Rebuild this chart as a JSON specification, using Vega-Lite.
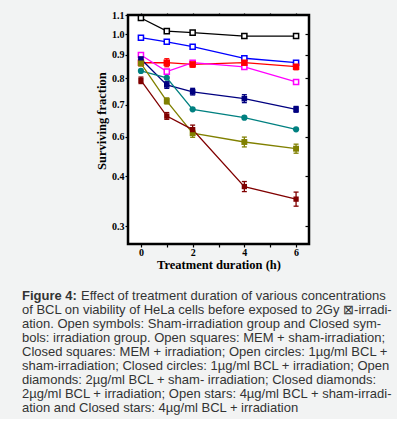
{
  "$schema": "https://vega.github.io/schema/vega-lite/v6.json",
  "background": "#f2f3f3",
  "padding": {"left": 22, "top": 8, "right": 4, "bottom": 4},
  "bounds": "flush",
  "spacing": 45,
  "config": {"view": {"stroke": null}},
  "datasets": {
    "pts": [
      {"series": "MEM + sham-irradiation", "t": 0, "v": 1.084},
      {"series": "MEM + sham-irradiation", "t": 1, "v": 1.015},
      {"series": "MEM + sham-irradiation", "t": 2, "v": 1.007},
      {"series": "MEM + sham-irradiation", "t": 4, "v": 0.990},
      {"series": "MEM + sham-irradiation", "t": 6, "v": 0.990},
      {"series": "1µg/ml BCL + sham", "t": 0, "v": 0.982},
      {"series": "1µg/ml BCL + sham", "t": 1, "v": 0.962},
      {"series": "1µg/ml BCL + sham", "t": 2, "v": 0.938},
      {"series": "1µg/ml BCL + sham", "t": 4, "v": 0.884},
      {"series": "1µg/ml BCL + sham", "t": 6, "v": 0.865},
      {"series": "MEM + irradiation", "t": 0, "v": 0.865, "lo": 0.852, "hi": 0.878},
      {"series": "MEM + irradiation", "t": 1, "v": 0.865, "lo": 0.848, "hi": 0.882},
      {"series": "MEM + irradiation", "t": 2, "v": 0.858, "lo": 0.846, "hi": 0.871},
      {"series": "MEM + irradiation", "t": 4, "v": 0.865, "lo": 0.852, "hi": 0.878},
      {"series": "MEM + irradiation", "t": 6, "v": 0.848, "lo": 0.835, "hi": 0.861},
      {"series": "2µg/ml BCL + sham", "t": 0, "v": 0.898},
      {"series": "2µg/ml BCL + sham", "t": 1, "v": 0.827},
      {"series": "2µg/ml BCL + sham", "t": 2, "v": 0.865},
      {"series": "2µg/ml BCL + sham", "t": 4, "v": 0.847},
      {"series": "2µg/ml BCL + sham", "t": 6, "v": 0.785},
      {"series": "4µg/ml BCL + sham", "t": 0, "v": 0.881, "lo": 0.868, "hi": 0.894},
      {"series": "4µg/ml BCL + sham", "t": 1, "v": 0.774, "lo": 0.761, "hi": 0.786},
      {"series": "4µg/ml BCL + sham", "t": 2, "v": 0.748, "lo": 0.736, "hi": 0.761},
      {"series": "4µg/ml BCL + sham", "t": 4, "v": 0.722, "lo": 0.707, "hi": 0.737},
      {"series": "4µg/ml BCL + sham", "t": 6, "v": 0.685, "lo": 0.676, "hi": 0.694},
      {"series": "1µg/ml BCL + irradiation", "t": 0, "v": 0.830},
      {"series": "1µg/ml BCL + irradiation", "t": 1, "v": 0.801},
      {"series": "1µg/ml BCL + irradiation", "t": 2, "v": 0.685},
      {"series": "1µg/ml BCL + irradiation", "t": 4, "v": 0.659},
      {"series": "1µg/ml BCL + irradiation", "t": 6, "v": 0.623},
      {"series": "2µg/ml BCL + irradiation", "t": 0, "v": 0.862, "lo": 0.853, "hi": 0.870},
      {"series": "2µg/ml BCL + irradiation", "t": 1, "v": 0.713, "lo": 0.702, "hi": 0.725},
      {"series": "2µg/ml BCL + irradiation", "t": 2, "v": 0.611, "lo": 0.597, "hi": 0.623},
      {"series": "2µg/ml BCL + irradiation", "t": 4, "v": 0.573, "lo": 0.548, "hi": 0.598},
      {"series": "2µg/ml BCL + irradiation", "t": 6, "v": 0.539, "lo": 0.516, "hi": 0.562},
      {"series": "4µg/ml BCL + irradiation", "t": 0, "v": 0.791, "lo": 0.779, "hi": 0.804},
      {"series": "4µg/ml BCL + irradiation", "t": 1, "v": 0.664, "lo": 0.654, "hi": 0.675},
      {"series": "4µg/ml BCL + irradiation", "t": 2, "v": 0.622, "lo": 0.609, "hi": 0.636},
      {"series": "4µg/ml BCL + irradiation", "t": 4, "v": 0.379, "lo": 0.369, "hi": 0.389},
      {"series": "4µg/ml BCL + irradiation", "t": 6, "v": 0.354, "lo": 0.340, "hi": 0.368}
    ],
    "cap": [
      {"line": 1, "kind": "label", "text": "Figure 4:"},
      {"line": 1, "kind": "first", "text": "Effect of treatment duration of various concentrations"},
      {"line": 2, "kind": "body", "text": "of BCL on viability of HeLa cells before exposed to 2Gy ⊠-irradi-"},
      {"line": 3, "kind": "body", "text": "ation. Open symbols: Sham-irradiation group and Closed sym-"},
      {"line": 4, "kind": "body", "text": "bols: irradiation group. Open squares: MEM + sham-irradiation;"},
      {"line": 5, "kind": "body", "text": "Closed squares: MEM + irradiation; Open circles: 1µg/ml BCL +"},
      {"line": 6, "kind": "body", "text": "sham-irradiation; Closed circles: 1µg/ml BCL + irradiation; Open"},
      {"line": 7, "kind": "body", "text": "diamonds: 2µg/ml BCL + sham- irradiation; Closed diamonds:"},
      {"line": 8, "kind": "body", "text": "2µg/ml BCL + irradiation; Open stars: 4µg/ml BCL + sham-irradi-"},
      {"line": 9, "kind": "body", "text": "ation and Closed stars: 4µg/ml BCL + irradiation"}
    ]
  },
  "vconcat": [
    {
      "width": 181,
      "height": 229,
      "view": {"fill": "white", "stroke": "black", "strokeWidth": 2.5},
      "data": {"name": "pts"},
      "resolve": {"axis": {"x": "independent", "y": "independent"}},
      "layer": [
        {
          "mark": {"type": "line", "strokeWidth": 1.3},
          "encoding": {
            "x": {"field": "t", "type": "quantitative",
              "scale": {"domain": [-0.5, 6.5], "nice": false, "zero": false},
              "axis": {"orient": "bottom", "values": [0, 1, 2, 3, 4, 5, 6],
                "labelExpr": "datum.value % 2 == 0 ? datum.label : ''",
                "labelOverlap": false, "title": "Treatment duration (h)",
                "domain": false, "grid": false, "tickSize": 3, "tickColor": "black", "tickWidth": 1.2,
                "labelFont": "Liberation Serif", "labelFontWeight": "bold", "labelFontSize": 10,
                "labelColor": "black", "labelPadding": 0,
                "titleFont": "Liberation Serif", "titleFontWeight": "bold", "titleFontSize": 12.5,
                "titleColor": "black", "titlePadding": 1}},
            "y": {"field": "v", "type": "quantitative",
              "scale": {"domain": [0.3, 0.4, 0.6, 0.7, 0.8, 0.9, 1.0, 1.1],
                "range": [211.3, 161, 121.7, 89.5, 63, 39.5, 19, 0], "nice": false, "zero": false},
              "axis": {"orient": "left", "values": [0.3, 0.4, 0.6, 0.7, 0.8, 0.9, 1.0, 1.1],
                "format": ".1f", "labelOverlap": false, "title": "Surviving fraction",
                "domain": false, "grid": false, "tickSize": 3, "tickColor": "black", "tickWidth": 1.2,
                "labelFont": "Liberation Serif", "labelFontWeight": "bold", "labelFontSize": 10,
                "labelColor": "black", "labelPadding": 1,
                "titleFont": "Liberation Serif", "titleFontWeight": "bold", "titleFontSize": 12.5,
                "titleColor": "black", "titlePadding": 3}},
            "color": {"field": "series", "type": "nominal", "legend": null,
              "scale": {"domain": ["MEM + sham-irradiation", "MEM + irradiation", "1µg/ml BCL + sham", "1µg/ml BCL + irradiation", "2µg/ml BCL + sham", "2µg/ml BCL + irradiation", "4µg/ml BCL + sham", "4µg/ml BCL + irradiation"],
                "range": ["#000000", "#ff0000", "#0000ff", "#008080", "#ff00ff", "#808000", "#000080", "#800000"]}}
          }
        },
        {
          "transform": [{"filter": "isValid(datum.lo)"}],
          "mark": {"type": "rule", "strokeWidth": 1.3},
          "encoding": {
            "x": {"field": "t", "type": "quantitative", "scale": {"domain": [-0.5, 6.5], "nice": false, "zero": false}, "axis": null},
            "y": {"field": "lo", "type": "quantitative",
              "scale": {"domain": [0.3, 0.4, 0.6, 0.7, 0.8, 0.9, 1.0, 1.1],
                "range": [211.3, 161, 121.7, 89.5, 63, 39.5, 19, 0], "nice": false, "zero": false}, "axis": null},
            "y2": {"field": "hi"},
            "color": {"field": "series", "type": "nominal", "legend": null}
          }
        },
        {
          "transform": [{"filter": "isValid(datum.lo)"}, {"fold": ["lo", "hi"], "as": ["end", "ev"]}],
          "mark": {"type": "tick", "orient": "horizontal", "size": 5, "thickness": 1.3, "opacity": 1},
          "encoding": {
            "x": {"field": "t", "type": "quantitative", "scale": {"domain": [-0.5, 6.5], "nice": false, "zero": false}, "axis": null},
            "y": {"field": "ev", "type": "quantitative",
              "scale": {"domain": [0.3, 0.4, 0.6, 0.7, 0.8, 0.9, 1.0, 1.1],
                "range": [211.3, 161, 121.7, 89.5, 63, 39.5, 19, 0], "nice": false, "zero": false}, "axis": null},
            "color": {"field": "series", "type": "nominal", "legend": null}
          }
        },
        {
          "transform": [{"filter": "datum.series == 'MEM + sham-irradiation' || datum.series == '1µg/ml BCL + sham' || datum.series == '2µg/ml BCL + sham'"}],
          "mark": {"type": "point", "shape": "square", "filled": false, "fill": "white", "strokeWidth": 1.5, "size": 26, "opacity": 1},
          "encoding": {
            "x": {"field": "t", "type": "quantitative", "scale": {"domain": [-0.5, 6.5], "nice": false, "zero": false},
              "axis": {"orient": "top", "values": [0, 1, 2, 3, 4, 5, 6], "labels": false, "title": null,
                "domain": false, "grid": false, "tickSize": 2, "tickColor": "black", "tickWidth": 1.2}},
            "y": {"field": "v", "type": "quantitative",
              "scale": {"domain": [0.3, 0.4, 0.6, 0.7, 0.8, 0.9, 1.0, 1.1],
                "range": [211.3, 161, 121.7, 89.5, 63, 39.5, 19, 0], "nice": false, "zero": false},
              "axis": {"orient": "right", "values": [0.3, 0.4, 0.6, 0.7, 0.8, 0.9, 1.0], "labels": false, "title": null,
                "domain": false, "grid": false, "tickSize": 4, "offset": -4, "tickColor": "black", "tickWidth": 1.2}},
            "color": {"field": "series", "type": "nominal", "legend": null}
          }
        },
        {
          "transform": [{"filter": "datum.series != 'MEM + sham-irradiation' && datum.series != '1µg/ml BCL + sham' && datum.series != '2µg/ml BCL + sham'"}],
          "mark": {"type": "point", "filled": true, "opacity": 1},
          "encoding": {
            "x": {"field": "t", "type": "quantitative", "scale": {"domain": [-0.5, 6.5], "nice": false, "zero": false}, "axis": null},
            "y": {"field": "v", "type": "quantitative",
              "scale": {"domain": [0.3, 0.4, 0.6, 0.7, 0.8, 0.9, 1.0, 1.1],
                "range": [211.3, 161, 121.7, 89.5, 63, 39.5, 19, 0], "nice": false, "zero": false}, "axis": null},
            "color": {"field": "series", "type": "nominal", "legend": null},
            "shape": {"field": "series", "type": "nominal", "legend": null,
              "scale": {"domain": ["MEM + irradiation", "1µg/ml BCL + irradiation", "2µg/ml BCL + irradiation", "4µg/ml BCL + sham", "4µg/ml BCL + irradiation"],
                "range": ["square", "circle", "square", "square", "square"]}},
            "size": {"field": "series", "type": "nominal", "legend": null,
              "scale": {"domain": ["MEM + irradiation", "1µg/ml BCL + irradiation", "2µg/ml BCL + irradiation", "4µg/ml BCL + sham", "4µg/ml BCL + irradiation"],
                "range": [42, 28, 24, 24, 24]}}
          }
        }
      ]
    },
    {
      "width": 181,
      "height": 125.6,
      "data": {"name": "cap"},
      "encoding": {
        "x": {"datum": 0, "type": "quantitative", "scale": {"domain": [0, 1]}, "axis": null},
        "y": {"field": "line", "type": "ordinal", "axis": null,
          "scale": {"type": "point", "padding": 0.5, "domain": [1, 2, 3, 4, 5, 6, 7, 8, 9]}},
        "text": {"field": "text"}
      },
      "layer": [
        {
          "transform": [{"filter": "datum.kind == 'label'"}],
          "mark": {"type": "text", "align": "left", "baseline": "middle", "dx": -106,
            "font": "Liberation Sans", "fontSize": 13, "fontWeight": "bold", "color": "#333333"}
        },
        {
          "transform": [{"filter": "datum.kind == 'first'"}],
          "mark": {"type": "text", "align": "left", "baseline": "middle", "dx": -47,
            "font": "Liberation Sans", "fontSize": 13, "color": "#333333"}
        },
        {
          "transform": [{"filter": "datum.kind == 'body'"}],
          "mark": {"type": "text", "align": "left", "baseline": "middle", "dx": -106,
            "font": "Liberation Sans", "fontSize": 13, "color": "#333333"}
        }
      ]
    }
  ]
}
